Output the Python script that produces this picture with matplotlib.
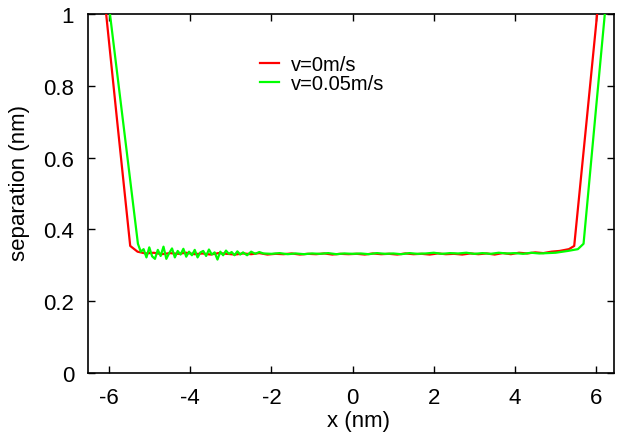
import matplotlib
matplotlib.use("Agg")
import matplotlib.pyplot as plt

plt.rcParams['font.family'] = ['Liberation Sans', 'DejaVu Sans']

# v = 0 m/s (red)
x_v0 = [-6.10, -5.80, -5.48, -5.30, -5.10, -4.90, -4.70, -4.50, -4.30, -4.10,
        -3.90, -3.70, -3.50, -3.30, -3.10, -2.90, -2.70, -2.50, -2.30, -2.10,
        -1.90, -1.70, -1.50, -1.30, -1.10, -0.90, -0.70, -0.50, -0.30, -0.10,
        0.10, 0.30, 0.50, 0.70, 0.90, 1.10, 1.30, 1.50, 1.70, 1.90,
        2.10, 2.30, 2.50, 2.70, 2.90, 3.10, 3.30, 3.50, 3.70, 3.90,
        4.10, 4.30, 4.50, 4.70, 4.90, 5.10, 5.33, 5.46, 5.76, 6.06]
y_v0 = [1.03, 0.700, 0.354, 0.338, 0.333, 0.335, 0.331, 0.334, 0.332, 0.335,
        0.331, 0.333, 0.330, 0.334, 0.332, 0.330, 0.333, 0.331, 0.334, 0.330,
        0.332, 0.331, 0.333, 0.330, 0.332, 0.331, 0.333, 0.330, 0.332, 0.331,
        0.332, 0.330, 0.333, 0.331, 0.332, 0.330, 0.333, 0.331, 0.332, 0.330,
        0.333, 0.331, 0.332, 0.330, 0.333, 0.331, 0.333, 0.330, 0.334, 0.331,
        0.335, 0.333, 0.336, 0.334, 0.338, 0.340, 0.345, 0.354, 0.696, 1.04]

# v = 0.05 m/s (green)
x_v005 = [-6.14, -5.85, -5.58, -5.29,
          -5.22, -5.15, -5.08, -5.01, -4.94, -4.87, -4.80, -4.73, -4.66, -4.59,
          -4.52, -4.45, -4.38, -4.31, -4.24, -4.17, -4.10, -4.03, -3.96, -3.89,
          -3.82, -3.75, -3.68, -3.61, -3.54, -3.47, -3.40, -3.33, -3.26, -3.19,
          -3.12, -3.05, -2.98, -2.91, -2.84, -2.77, -2.70, -2.60, -2.50, -2.40,
          -2.30, -2.20, -2.00, -1.80, -1.60, -1.40, -1.20, -1.00, -0.80, -0.60,
          -0.40, -0.20, 0.00, 0.20, 0.40, 0.60, 0.80, 1.00, 1.20, 1.40,
          1.60, 1.80, 2.00, 2.20, 2.40, 2.60, 2.80, 3.00, 3.20, 3.40,
          3.60, 3.80, 4.00, 4.20, 4.40, 4.60, 4.80, 5.00, 5.30, 5.55,
          5.69, 6.00, 6.28]
y_v005 = [1.15, 0.880, 0.630, 0.360,
          0.338, 0.345, 0.322, 0.350, 0.325, 0.318, 0.343, 0.326, 0.352, 0.318,
          0.334, 0.347, 0.322, 0.340, 0.330, 0.346, 0.324, 0.338, 0.328, 0.343,
          0.322, 0.336, 0.340, 0.326, 0.344, 0.330, 0.336, 0.316, 0.338, 0.328,
          0.341, 0.332, 0.337, 0.328, 0.339, 0.330, 0.336, 0.328, 0.338, 0.332,
          0.337, 0.333, 0.332, 0.334, 0.331, 0.333, 0.331, 0.333, 0.332, 0.334,
          0.331, 0.333, 0.332, 0.333, 0.331, 0.334, 0.332, 0.333, 0.331, 0.334,
          0.332, 0.333, 0.335, 0.332, 0.334, 0.333, 0.335, 0.332, 0.334, 0.332,
          0.335, 0.333, 0.334, 0.332, 0.335, 0.333, 0.334, 0.335, 0.340, 0.345,
          0.360, 0.740, 1.08]

x_ticks = [-6, -4, -2, 0, 2, 4, 6]
y_ticks = [0, 0.2, 0.4, 0.6, 0.8, 1]
y_tick_labels = ["0", "0.2", "0.4", "0.6", "0.8", "1"]

fig = plt.figure(figsize=(6.18, 4.35), dpi=100)
ax = fig.add_axes([0.1424, 0.1402, 0.8511, 0.8253])

ax.plot(x_v0, y_v0, color='#ff0000', lw=1.6, label='v=0m/s', zorder=3)
ax.plot(x_v005, y_v005, color='#00ff00', lw=1.6, label='v=0.05m/s', zorder=3)

ax.set_xlim(-6.52, 6.44)
ax.set_ylim(0, 1)
ax.set_xticks(x_ticks)
ax.set_xticklabels([str(t) for t in x_ticks])
ax.set_yticks(y_ticks)
ax.set_yticklabels(y_tick_labels)
ax.tick_params(direction='in', length=5, width=1, top=True, right=True,
               labelsize=16, pad=10)
for s in ax.spines.values():
    s.set_linewidth(1.2)

ax.set_xlabel('x (nm)', fontsize=16)
ax.set_ylabel('separation (nm)', fontsize=16)
ax.xaxis.set_label_coords(0.515, -0.103)
ax.yaxis.set_label_coords(-0.11, 0.532)

leg = ax.legend(loc='upper left', bbox_to_anchor=(0.307, 0.915), frameon=False,
                fontsize=14.5, handlelength=0.95, handletextpad=0.6,
                labelspacing=0.0, borderpad=0)

fig.savefig('out.png', dpi=100)
